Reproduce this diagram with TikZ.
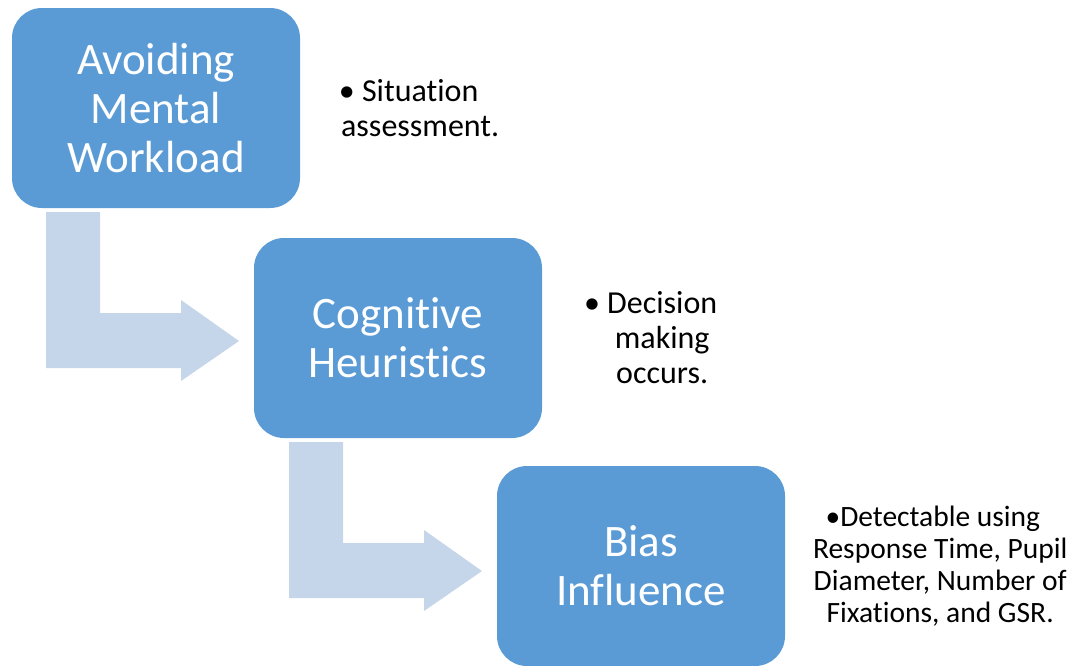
\documentclass[tikz,border=0pt]{standalone}
\usepackage{fontspec}
\setmainfont{Carlito}[Ligatures=NoCommon]
\usetikzlibrary{positioning}
\definecolor{boxblue}{HTML}{5B9BD5}
\definecolor{arrowblue}{HTML}{C5D6EB}

\begin{document}
\begin{tikzpicture}
  [x=1pt,y=-1pt,
   stage/.style={rectangle,rounded corners=30pt,fill=boxblue,text=white,
     minimum width=288pt,minimum height=200pt,inner sep=0pt,align=center,
     font=\fontsize{45}{49}\selectfont},
   note/.style={inner sep=0pt,align=center,font=\fontsize{32}{35}\selectfont},
   bentarrow/.pic={\fill[arrowblue] (34,4) -- (88,4) -- (88,105) -- (169,105) -- (169,92)
     -- (227,133) -- (169,173) -- (169,160) -- (34,160) -- cycle;}]
  \useasboundingbox (0,0) rectangle (1075,665);

  \pic at (12,208) {bentarrow};
  \pic at (255,438) {bentarrow};

  \node[stage] (s1) at (156,108) {Avoiding\\Mental\\Workload};
  \node[stage] (s2) at (398,338) {Cognitive\\Heuristics};
  \node[stage] (s3) at (641,566) {Bias\\Influence};

  \node[note,right=120pt of s1,anchor=center] (n1) {\llap{• }Situation\\assessment.};
  \node[note,right=120pt of s2,anchor=center] (n2) {\llap{• }Decision\\making\\occurs.};
  \node[note,right=155pt of s3,anchor=center,font=\fontsize{29.5}{32}\selectfont] (n3)
    {\llap{•}Detectable using\\Response Time, Pupil\\Diameter, Number of\\Fixations, and GSR.};

\end{tikzpicture}
\end{document}
